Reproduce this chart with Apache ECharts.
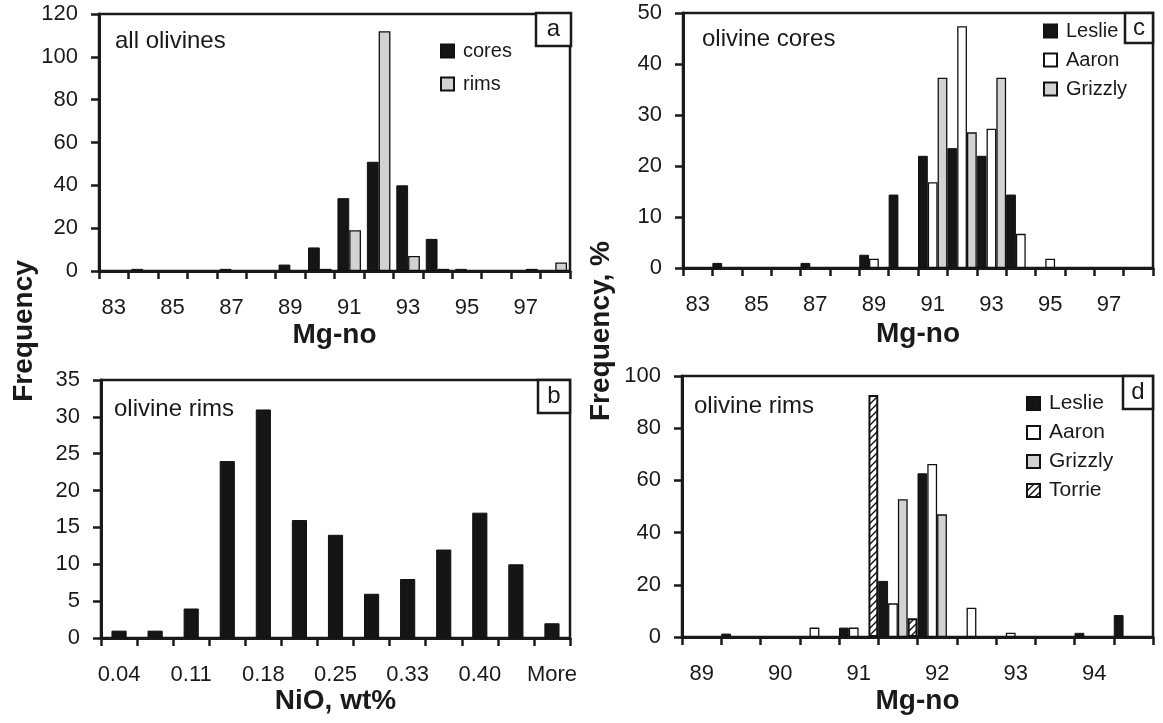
<!DOCTYPE html>
<html>
<head>
<meta charset="utf-8">
<script src="https://cdn.jsdelivr.net/npm/echarts@6/dist/echarts.min.js"></script>
<style>
html,body{margin:0;padding:0;background:#fff;}
#chart{width:1163px;height:723px;}
</style>
</head>
<body>
<div id="chart"></div>
<script>
// ---------- data ----------
const mgCategories = ['83','84','85','86','87','88','89','90','91','92','93','94','95','96','97','98'];
const allCores = [0,1,0,0,1,0,3,11,34,51,40,15,1,0,0,0];
const allRims  = [0,0,0,0,0,0,0,1,19,112,7,1,0,0,1,4];

const nioCategories = ['0.04','0.08','0.11','0.15','0.18','0.22','0.25','0.29','0.33','0.36','0.40','0.43','More'];
const nioRims = [1,1,4,24,31,16,14,6,8,12,17,10,2];

const coreLeslie  = [0,1,0,0,1,0,2.6,14.4,22,23.5,22,14.4,0,0,0,0];
const coreAaron   = [0,0,0,0,0,0,1.8,0,16.8,47.4,27.3,6.7,1.8,0,0,0];
const coreGrizzly = [0,0,0,0,0,0,0,0,37.3,26.6,37.3,0,0,0,0,0];

const rimCategories = ['89','89.5','90','90.5','91','91.5','92','92.5','93','93.5','94','94.5'];
const rimLeslie  = [0,1.3,0,0,3.6,21.5,62.7,0,0,0,1.6,8.4];
const rimAaron   = [0,0,0,3.6,3.6,12.9,66.3,11.2,1.6,0,0,0];
const rimGrizzly = [0,0,0,0,0,52.8,47,0,0,0,0,0];
const rimTorrie  = [0,0,0,0,92.7,7.2,0,0,0,0,0,0];

// ---------- styles ----------
const FONT = '"Liberation Sans", Arial, sans-serif';
const INK = '#1a1a1a';
const BLACK = { color: '#151515', borderColor: '#111', borderWidth: 1 };
const WHITE = { color: '#ffffff', borderColor: '#111', borderWidth: 1.3 };
const GRAY  = { color: '#d2d2d2', borderColor: '#111', borderWidth: 1.3 };

const pc = document.createElement('canvas');
pc.width = 7; pc.height = 7;
const pctx = pc.getContext('2d');
pctx.fillStyle = '#fff'; pctx.fillRect(0,0,7,7);
pctx.strokeStyle = '#111'; pctx.lineWidth = 1.4;
pctx.beginPath();
pctx.moveTo(0,7); pctx.lineTo(7,0);
pctx.moveTo(-1,1); pctx.lineTo(1,-1);
pctx.moveTo(6,8); pctx.lineTo(8,6);
pctx.stroke();
const HATCH = { color: { image: pc, repeat: 'repeat' }, borderColor: '#111', borderWidth: 2 };

const nz = arr => arr.map(v => v === 0 ? '-' : v);

function grid(left, top, width, height) {
  return { left, top, width, height, show: true, borderColor: INK, borderWidth: 2.5,
           backgroundColor: 'transparent', containLabel: false, outerBoundsMode: 'none' };
}
function xAxis(gi, data, name, nameGap) {
  return {
    type: 'category', gridIndex: gi, data, boundaryGap: true,
    name, nameLocation: 'middle', nameGap,
    nameTextStyle: { fontFamily: FONT, fontWeight: 'bold', fontSize: 28, color: INK },
    axisLine: { show: true, lineStyle: { color: INK, width: 3 } },
    axisTick: { show: true, interval: 0, length: 8, lineStyle: { color: INK, width: 2.5 } },
    axisLabel: { interval: 1, fontFamily: FONT, fontSize: 22, color: INK, margin: 26 },
    splitLine: { show: false }
  };
}
function yAxis(gi, max, interval) {
  return {
    type: 'value', gridIndex: gi, min: 0, max, interval,
    axisLine: { show: true, lineStyle: { color: INK, width: 3 } },
    axisTick: { show: true, length: 8, lineStyle: { color: INK, width: 2.5 } },
    axisLabel: { fontFamily: FONT, fontSize: 22, color: INK, margin: 21 },
    splitLine: { show: false }
  };
}
function bar(name, gi, data, style, catGap) {
  return { type: 'bar', name, xAxisIndex: gi, yAxisIndex: gi, data: nz(data),
           itemStyle: style, barGap: '0%', barCategoryGap: catGap, animation: false };
}
function letterBox(x, y, w, h, ch) {
  return { type: 'group', children: [
    { type: 'rect', shape: { x, y, width: w, height: h },
      style: { fill: '#fff', stroke: INK, lineWidth: 2.5 }, z: 100 },
    { type: 'text', x: x + w / 2, y: y + h / 2, z: 101,
      style: { text: ch, font: '24px ' + FONT, fill: INK, align: 'center', verticalAlign: 'middle' } }
  ]};
}
function note(x, y, txt) {
  return { type: 'text', x, y, z: 50,
    style: { text: txt, font: '24px ' + FONT, fill: INK, align: 'left', verticalAlign: 'middle' } };
}
function legend(left, top, names, gap, size) {
  return { orient: 'vertical', left, top, padding: 0, itemGap: gap, data: names,
    itemWidth: 13, itemHeight: 13, icon: 'rect', selectedMode: false,
    textStyle: { fontFamily: FONT, fontSize: size, color: INK, padding: [0,0,0,4] } };
}

const option = {
  backgroundColor: '#fff',
  animation: false,
  grid: [
    grid(99, 14, 471, 257),
    grid(101, 380, 469, 258),
    grid(683, 13, 470, 255),
    grid(682, 376, 471, 261)
  ],
  xAxis: [
    xAxis(0, mgCategories, 'Mg-no', 50),
    xAxis(1, nioCategories, 'NiO, wt%', 48),
    xAxis(2, mgCategories, 'Mg-no', 52),
    xAxis(3, rimCategories, 'Mg-no', 50)
  ],
  yAxis: [
    yAxis(0, 120, 20),
    yAxis(1, 35, 5),
    yAxis(2, 50, 10),
    yAxis(3, 100, 20)
  ],
  legend: [
    legend(440, 41, ['cores', 'rims'], 13, 20),
    legend(1043, 21, ['Leslie', 'Aaron', 'Grizzly'], 9, 20),
    legend(1026, 393, ['Leslie', 'Aaron', 'Grizzly', 'Torrie'], 8, 21)
  ],
  series: [
    bar('cores', 0, allCores, BLACK, '20%'),
    bar('rims', 0, allRims, GRAY, '20%'),
    bar('NiO rims', 1, nioRims, BLACK, '58%'),
    bar('Leslie', 2, coreLeslie, BLACK, '0%'),
    bar('Aaron', 2, coreAaron, WHITE, '0%'),
    bar('Grizzly', 2, coreGrizzly, GRAY, '0%'),
    bar('Leslie', 3, rimLeslie, BLACK, '0%'),
    bar('Aaron', 3, rimAaron, WHITE, '0%'),
    bar('Grizzly', 3, rimGrizzly, GRAY, '0%'),
    bar('Torrie', 3, rimTorrie, HATCH, '0%')
  ],
  graphic: [
    { type: 'text', x: 24, y: 331, rotation: Math.PI / 2,
      style: { text: 'Frequency', font: 'bold 28px ' + FONT, fill: INK, align: 'center', verticalAlign: 'middle' } },
    { type: 'text', x: 601, y: 331, rotation: Math.PI / 2,
      style: { text: 'Frequency, %', font: 'bold 28px ' + FONT, fill: INK, align: 'center', verticalAlign: 'middle' } },
    note(115, 41, 'all olivines'),
    note(114, 409, 'olivine rims'),
    note(702, 39, 'olivine cores'),
    note(694, 406, 'olivine rims'),
    letterBox(536, 13, 35, 33, 'a'),
    letterBox(538, 380, 32, 33, 'b'),
    letterBox(1125, 13, 28, 30, 'c'),
    letterBox(1123, 376, 30, 33, 'd')
  ]
};

const chart = echarts.init(document.getElementById('chart'), null, { renderer: 'canvas' });
chart.setOption(option);
</script>
</body>
</html>
